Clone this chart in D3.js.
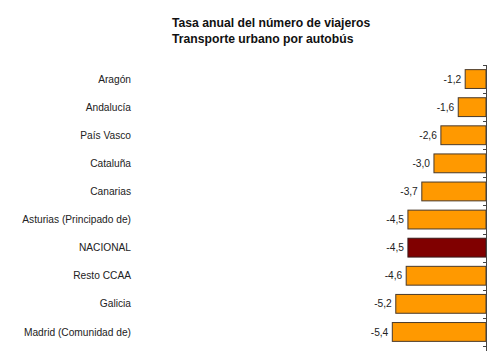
<!DOCTYPE html>
<html>
<head>
<meta charset="utf-8">
<script src="https://cdn.jsdelivr.net/npm/d3@7"></script>
<style>
  body { margin: 0; background: #fff; }
  svg { display: block; font-family: "Liberation Sans", Arial, sans-serif; }
</style>
</head>
<body>
<div id="chart"></div>
<script>
// Data
const regions = ["Aragón", "Andalucía", "País Vasco", "Cataluña", "Canarias",
    "Asturias (Principado de)", "NACIONAL", "Resto CCAA", "Galicia", "Madrid (Comunidad de)"];
const rates = [-1.2, -1.6, -2.6, -3.0, -3.7, -4.5, -4.5, -4.6, -5.2, -5.4];
const titleLines = ["Tasa anual del número de viajeros", "Transporte urbano por autobús"];

const width = 500, height = 351;

const svg = d3.select("#chart")
    .append("svg")
    .attr("width", width)
    .attr("height", height);

// Scales
const x = d3.scaleLinear()
    .domain([-6, 0])
    .range([381.9, 486]);

const y = d3.scaleBand()
    .domain(regions)
    .range([65, 346])
    .paddingInner(0.33)
    .paddingOuter(0.165);

// Title
svg.append("g")
    .selectAll("text")
    .data(titleLines)
    .enter()
    .append("text")
    .attr("x", 172)
    .attr("y", (d, i) => 27 + i * 15.5)
    .style("font-size", "12.2px")
    .style("font-weight", "bold")
    .style("fill", "#111")
    .text(d => d);

// Bars
svg.selectAll(".bar")
    .data(regions)
    .enter()
    .append("rect")
    .attr("class", "bar")
    .attr("x", (d, i) => x(rates[i]))
    .attr("y", d => y(d))
    .attr("width", (d, i) => x(0) - x(rates[i]))
    .attr("height", y.bandwidth())
    .attr("fill", d => d === "NACIONAL" ? "#800000" : "#ff9900")
    .attr("stroke", d => d === "NACIONAL" ? "#3a1a1a" : "#4a3a2a")
    .attr("stroke-width", 1);

// Value labels (hyphen minus, decimal comma)
const fmt = v => v.toFixed(1).replace(".", ",");
svg.selectAll(".val")
    .data(regions)
    .enter()
    .append("text")
    .attr("class", "val")
    .attr("x", (d, i) => x(rates[i]) - 4)
    .attr("y", d => y(d) + y.bandwidth() / 2)
    .attr("dy", "0.35em")
    .attr("text-anchor", "end")
    .style("font-size", "10.2px")
    .style("fill", "#222")
    .text((d, i) => fmt(rates[i]));

// Category labels
svg.selectAll(".cat")
    .data(regions)
    .enter()
    .append("text")
    .attr("class", "cat")
    .attr("x", 131)
    .attr("y", d => y(d) + y.bandwidth() / 2)
    .attr("dy", "0.35em")
    .attr("text-anchor", "end")
    .style("font-size", "10.2px")
    .style("fill", "#222")
    .text(d => d);

// Axis at zero with ticks between bands
const axis = svg.append("g").attr("stroke", "#444").attr("stroke-width", 1);
axis.append("line")
    .attr("x1", x(0) + 0.5).attr("x2", x(0) + 0.5)
    .attr("y1", y.range()[0]).attr("y2", height);

const tickPos = regions.map(d => y(d) - y.step() * y.paddingInner() / 2);
tickPos.push(y.range()[1]);
axis.selectAll(".tick")
    .data(tickPos)
    .enter()
    .append("line")
    .attr("x1", x(0) - 3).attr("x2", x(0) + 0.5)
    .attr("y1", d => Math.round(d) + 0.5).attr("y2", d => Math.round(d) + 0.5);
</script>
</body>
</html>
